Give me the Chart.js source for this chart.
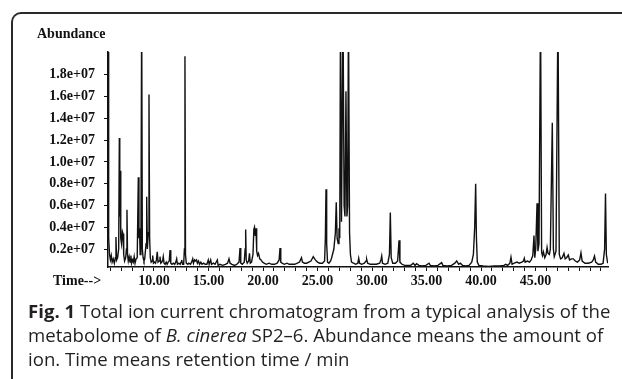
<!DOCTYPE html>
<html>
<head>
<meta charset="utf-8">
<script src="https://cdn.jsdelivr.net/npm/chart.js@4.4.1/dist/chart.umd.min.js"></script>
<style>
  html, body { margin: 0; padding: 0; background: #fff; }
  body { width: 622px; height: 379px; position: relative; overflow: hidden; }
  #frame {
    position: absolute; left: 11px; top: 12px; width: 700px; height: 420px;
    border-top: 2px solid #2a2a2a; border-left: 2px solid #2a2a2a;
    border-top-left-radius: 10px; box-sizing: border-box;
  }
  #tic { position: absolute; left: 0; top: 0; }
  #caption {
    position: absolute; left: 28px; top: 299px;
    font-family: "Open Sans", sans-serif; font-size: 18.6px; line-height: 24px;
    color: #231f20; white-space: nowrap;
  }
</style>
</head>
<body>
<div id="frame"></div>
<canvas id="tic" width="622" height="300"></canvas>
<div id="caption"><b>Fig. 1</b> Total ion current chromatogram from a typical analysis of the<br>metabolome of <i>B. cinerea</i> SP2–6. Abundance means the amount of<br>ion. Time means retention time / min</div>
<script>
// total ion current trace (abundance in units of 1e7)
const retentionTimes = [
  5.78, 5.84, 5.92, 6.00, 6.08, 6.16, 6.26, 6.36, 6.46, 6.51, 6.57, 6.66, 6.76, 6.82, 6.86, 6.89,
  6.95, 7.02, 7.10, 7.16, 7.22, 7.30, 7.40, 7.47, 7.52, 7.57, 7.64, 7.72, 7.80, 7.88, 7.94, 8.02,
  8.10, 8.18, 8.26, 8.36, 8.46, 8.56, 8.62, 8.67, 8.73, 8.80, 8.87, 8.93, 9.00, 9.08, 9.15, 9.27,
  9.33, 9.39, 9.48, 9.54, 9.60, 9.66, 9.74, 9.82, 9.88, 9.95, 10.05, 10.14, 10.22, 10.30, 10.37, 10.46,
  10.55, 10.62, 10.72, 10.80, 10.85, 10.92, 11.02, 11.12, 11.20, 11.30, 11.40, 11.47, 11.54, 11.65, 11.78, 11.90,
  12.00, 12.08, 12.15, 12.28, 12.40, 12.48, 12.54, 12.62, 12.72, 12.79, 12.84, 12.89, 12.96, 13.10, 13.20, 13.35,
  13.45, 13.55, 13.62, 13.72, 13.80, 13.90, 13.98, 14.08, 14.18, 14.30, 14.40, 14.55, 14.70, 14.85, 14.98, 15.06,
  15.20, 15.28, 15.45, 15.60, 15.81, 15.88, 16.05, 16.30, 16.55, 16.75, 16.88, 16.98, 17.15, 17.40, 17.60, 17.80,
  17.89, 17.96, 18.10, 18.28, 18.36, 18.41, 18.46, 18.55, 18.68, 18.76, 18.83, 18.95, 19.08, 19.16, 19.22, 19.29,
  19.36, 19.42, 19.50, 19.59, 19.70, 19.82, 19.95, 20.10, 20.30, 20.55, 20.80, 21.05, 21.30, 21.48, 21.56, 21.63,
  21.75, 21.95, 22.20, 22.40, 22.65, 22.90, 23.15, 23.35, 23.53, 23.62, 23.80, 24.00, 24.20, 24.40, 24.61, 24.80,
  25.00, 25.20, 25.45, 25.65, 25.72, 25.78, 25.84, 25.92, 26.05, 26.20, 26.30, 26.50, 26.64, 26.72, 26.80, 26.90,
  26.97, 27.04, 27.11, 27.20, 27.34, 27.44, 27.52, 27.61, 27.70, 27.77, 27.84, 27.94, 28.02, 28.12, 28.30, 28.50,
  28.70, 28.78, 28.86, 29.05, 29.30, 29.45, 29.51, 29.60, 29.85, 30.10, 30.40, 30.70, 30.82, 30.89, 30.96, 31.20,
  31.45, 31.60, 31.68, 31.76, 31.90, 32.15, 32.35, 32.48, 32.56, 32.75, 33.00, 33.30, 33.55, 33.79, 33.95, 34.10,
  34.30, 34.60, 34.95, 35.23, 35.35, 35.70, 36.05, 36.39, 36.50, 36.90, 37.30, 37.60, 37.77, 37.95, 38.10, 38.30,
  38.60, 38.90, 39.15, 39.30, 39.42, 39.51, 39.58, 39.66, 39.80, 40.20, 40.70, 41.20, 41.70, 42.10, 42.27, 42.45,
  42.65, 42.75, 42.85, 43.05, 43.30, 43.50, 43.75, 43.90, 43.97, 44.05, 44.25, 44.45, 44.60, 44.75, 44.86, 44.93,
  45.02, 45.14, 45.22, 45.32, 45.46, 45.56, 45.64, 45.72, 45.85, 45.97, 46.06, 46.15, 46.27, 46.36, 46.54, 46.64,
  46.72, 46.88, 47.06, 47.18, 47.30, 47.45, 47.61, 47.72, 47.85, 48.01, 48.12, 48.30, 48.47, 48.65, 48.85, 49.05,
  49.17, 49.28, 49.54, 49.85, 50.15, 50.30, 50.41, 50.52, 50.75, 51.00, 51.20, 51.34, 51.42, 51.50, 51.62
];
const abundanceE7 = [
  2.40, 0.30, 0.15, 0.10, 0.14, 0.08, 0.11, 0.07, 0.12, 0.31, 0.10, 0.12, 0.20, 1.22, 0.50, 0.92,
  0.30, 0.25, 0.36, 0.34, 0.15, 0.09, 0.12, 0.20, 0.56, 0.15, 0.09, 0.13, 0.08, 0.14, 0.07, 0.10,
  0.08, 0.13, 0.07, 0.11, 0.12, 0.86, 0.30, 0.39, 0.15, 0.25, 2.40, 0.20, 0.12, 0.09, 0.11, 0.25,
  0.68, 0.20, 0.35, 1.62, 0.30, 0.12, 0.08, 0.09, 0.14, 0.07, 0.08, 0.07, 0.10, 0.175, 0.08, 0.09,
  0.13, 0.07, 0.08, 0.10, 0.13, 0.07, 0.06, 0.08, 0.06, 0.08, 0.09, 0.19, 0.07, 0.06, 0.07, 0.06,
  0.08, 0.11, 0.06, 0.07, 0.06, 0.08, 0.10, 0.06, 0.06, 0.20, 1.97, 0.15, 0.07, 0.06, 0.07, 0.06,
  0.08, 0.11, 0.07, 0.10, 0.09, 0.10, 0.07, 0.09, 0.06, 0.08, 0.06, 0.07, 0.06, 0.06, 0.10, 0.06,
  0.10, 0.06, 0.07, 0.06, 0.10, 0.05, 0.06, 0.05, 0.06, 0.07, 0.11, 0.07, 0.06, 0.05, 0.06, 0.08,
  0.21, 0.07, 0.06, 0.08, 0.20, 0.38, 0.10, 0.07, 0.09, 0.16, 0.07, 0.08, 0.15, 0.38, 0.40, 0.32,
  0.39, 0.18, 0.14, 0.16, 0.11, 0.10, 0.08, 0.07, 0.06, 0.07, 0.06, 0.06, 0.07, 0.10, 0.21, 0.08,
  0.07, 0.06, 0.07, 0.06, 0.06, 0.06, 0.07, 0.08, 0.12, 0.08, 0.07, 0.07, 0.08, 0.09, 0.13, 0.10,
  0.08, 0.07, 0.07, 0.09, 0.30, 0.75, 0.25, 0.08, 0.07, 0.09, 0.12, 0.20, 0.35, 0.63, 0.30, 0.25,
  0.39, 0.30, 2.40, 0.45, 2.40, 0.60, 0.50, 1.65, 0.50, 0.60, 2.40, 0.35, 0.15, 0.08, 0.07, 0.06,
  0.07, 0.115, 0.07, 0.06, 0.07, 0.09, 0.105, 0.07, 0.06, 0.06, 0.06, 0.07, 0.10, 0.135, 0.07, 0.06,
  0.07, 0.15, 0.535, 0.12, 0.07, 0.07, 0.09, 0.28, 0.08, 0.06, 0.05, 0.05, 0.05, 0.07, 0.05, 0.065,
  0.05, 0.045, 0.05, 0.07, 0.05, 0.045, 0.05, 0.075, 0.05, 0.045, 0.05, 0.07, 0.09, 0.06, 0.07, 0.05,
  0.045, 0.05, 0.08, 0.15, 0.40, 0.80, 0.30, 0.08, 0.05, 0.045, 0.04, 0.045, 0.045, 0.05, 0.06, 0.05,
  0.07, 0.125, 0.06, 0.07, 0.08, 0.07, 0.08, 0.09, 0.115, 0.08, 0.09, 0.08, 0.10, 0.14, 0.325, 0.12,
  0.20, 0.62, 0.18, 0.25, 2.40, 0.17, 0.14, 0.175, 0.12, 0.15, 0.215, 0.16, 0.15, 0.20, 1.36, 0.20,
  0.13, 0.18, 2.40, 0.15, 0.11, 0.12, 0.16, 0.11, 0.12, 0.145, 0.10, 0.11, 0.11, 0.09, 0.08, 0.10,
  0.165, 0.09, 0.07, 0.07, 0.08, 0.10, 0.135, 0.08, 0.06, 0.06, 0.07, 0.20, 0.71, 0.15, 0.07
];

const yTickValuesE7 = [0.2, 0.4, 0.6, 0.8, 1.0, 1.2, 1.4, 1.6, 1.8];
const xTickTimes = [6, 7, 8, 9, 10, 11, 12, 13, 14, 15, 16, 17, 18, 19, 20, 21, 22, 23, 24, 25, 26, 27, 28,
  29, 30, 31, 32, 33, 34, 35, 36, 37, 38, 39, 40, 41, 42, 43, 44, 45, 46, 47, 48, 49, 50, 51];
const xLabelTimes = [10, 15, 20, 25, 30, 35, 40, 45];

const points = retentionTimes.map((t, i) => ({ x: t, y: abundanceE7[i] * 1e7 }));

const axisFont = { family: "'Liberation Serif', 'Times New Roman', serif", size: 14, weight: "bold" };
const ink = "#111";

// "Abundance" and "Time-->" sit outside the axes
const axisTitles = {
  id: "axisTitles",
  afterDraw(chart) {
    const { ctx, chartArea } = chart;
    ctx.save();
    ctx.fillStyle = ink;
    ctx.font = "bold 14px 'Liberation Serif', serif";
    ctx.textBaseline = "middle";
    ctx.textAlign = "left";
    ctx.fillText("Abundance", chartArea.left - 71, 34);
    ctx.fillText("Time-->", chartArea.left - 55, chartArea.bottom + 14);
    ctx.restore();
  }
};

new Chart(document.getElementById("tic"), {
  type: "line",
  data: {
    datasets: [{
      data: points,
      borderColor: ink,
      borderWidth: 1.4,
      pointRadius: 0,
      tension: 0,
      fill: false
    }]
  },
  options: {
    responsive: false,
    animation: false,
    layout: { padding: { left: 0, top: 52, right: 14, bottom: 0 } },
    plugins: { legend: { display: false }, tooltip: { enabled: false } },
    scales: {
      x: {
        type: "linear",
        min: 5.78,
        max: 51.65,
        afterBuildTicks: s => { s.ticks = xTickTimes.map(v => ({ value: v })); },
        afterFit: s => { s.height = 33; },
        border: { color: ink, width: 1.5 },
        grid: { drawOnChartArea: false, drawTicks: true, tickLength: 4, color: ink },
        ticks: {
          autoSkip: false,
          maxRotation: 0,
          padding: 2,
          color: ink,
          font: axisFont,
          callback: v => xLabelTimes.includes(v) ? v.toFixed(2) : ""
        }
      },
      y: {
        min: 0.035e7,
        max: 2.01e7,
        afterBuildTicks: s => { s.ticks = yTickValuesE7.map(v => ({ value: v * 1e7 })); },
        afterFit: s => { s.width = 108; },
        border: { color: ink, width: 1.5 },
        grid: { drawOnChartArea: false, drawTicks: true, tickLength: 4, color: ink },
        ticks: {
          padding: 9,
          color: ink,
          font: axisFont,
          callback: v => (v / 1e7).toFixed(1) + "e+07"
        }
      }
    }
  },
  plugins: [axisTitles]
});
</script>
</body>
</html>
